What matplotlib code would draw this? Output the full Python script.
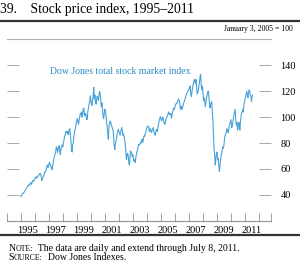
import matplotlib
matplotlib.use('agg')
import matplotlib.pyplot as plt

# Dow Jones total stock market index, Jan 3 2005 = 100
# two readings per month (early / late)
years = list(range(1995, 2012))
values = {
    1995: [38.5, 39.5, 39.8, 40.8, 41, 41.8, 42, 43, 43.5, 44.5, 45, 46,
           46.5, 47.5, 47, 48, 48.5, 49.5, 48, 49, 50, 51, 50.5, 51.5],
    1996: [52, 53.5, 53, 54, 53, 53.8, 54.5, 55.5, 55.5, 56.5, 56, 55,
           51, 52.5, 53.5, 54.5, 55.5, 57.5, 57.5, 58.5, 60, 62.5, 63, 61],
    1997: [63, 65, 64, 62.5, 62, 59.5, 60, 63.5, 66, 68.5, 70, 72,
           74, 77, 76, 72.5, 75, 77.5, 78, 73, 71, 76, 77, 78.5],
    1998: [77, 80, 82, 85, 86, 88.5, 89, 88, 89, 86.5, 88, 90.5,
           91, 86, 82, 74, 73, 79, 80, 85, 88, 90.5, 92, 95.5],
    1999: [97, 99, 96, 94.5, 98, 100, 103, 102, 104, 100, 102, 106.5,
           107, 102, 101, 103, 101, 98, 99, 105, 107, 110, 112, 116.5],
    2000: [113, 110, 109, 113, 117, 123, 114, 117, 112, 110, 114, 116,
           115, 113, 117, 120, 118, 113, 108, 111, 106, 100, 99, 103],
    2001: [106, 105, 101, 96, 93, 87, 83, 92, 95, 97, 96, 94,
           93, 91, 90, 86, 78, 75, 79, 81, 84, 87, 89, 90.5],
    2002: [89, 88, 86, 88, 90, 92, 89, 86, 87, 85, 82, 79,
           73, 67, 71, 72, 70, 65, 63, 69, 74, 73, 72, 69.5],
    2003: [71, 67.5, 66, 67, 65, 69, 71, 73.5, 75, 77.5, 79, 78.5,
           79, 80.5, 80, 82, 83, 80.5, 83, 85.5, 85, 87, 88, 90.5],
    2004: [92, 93, 93, 92.5, 89, 90.5, 91, 88.5, 88, 90, 91, 92,
           89, 87, 86, 88, 90, 90.5, 89, 92, 95, 97, 99, 100.5],
    2005: [99, 97, 98, 100, 99, 96.5, 95, 94.5, 97, 99, 100, 100.5,
           102, 104, 103, 102, 103, 102.5, 99, 101.5, 104, 106, 107, 106],
    2006: [108, 110, 110, 111, 111, 112.5, 114, 113, 112, 107, 106, 108.5,
           106, 107.5, 109, 111, 112, 113.5, 115, 117, 118, 119, 120, 121],
    2007: [121, 123, 124, 118, 116, 119.5, 122, 125, 127, 129, 128, 126,
           129, 124, 118, 119, 121, 124.5, 127, 131.5, 133, 124, 121, 124],
    2008: [118, 113, 115, 112, 108, 112, 115, 117, 119, 120, 116, 111,
           107, 110, 111, 112, 103, 98, 85, 75, 70, 63, 68, 72],
    2009: [73, 67, 68, 63, 58, 62, 67, 70, 72, 75, 77, 76,
           79, 84, 86, 87, 89, 91, 90, 88, 91, 93.5, 95, 96.5],
    2010: [98, 92, 93, 96, 99, 102, 104, 106, 98, 94, 96, 90,
           91, 96, 95, 90, 96, 100, 103, 104, 106, 104, 109, 112],
    2011: [114, 116, 118, 120, 117, 115, 119, 121, 120, 117, 116, 112,
           116, 117],
}

yticks = [40, 60, 80, 100, 120, 140]
xlabels = [1995, 1997, 1999, 2001, 2003, 2005, 2007, 2009, 2011]

dates = []
series = []
for y in years:
    for k, v in enumerate(values[y]):
        dates.append(y + k / 24.0)
        series.append(v)

plt.rcParams['font.family'] = ['Liberation Serif', 'DejaVu Serif']

fig = plt.figure(figsize=(3.0, 2.61), dpi=100)
ax = fig.add_axes([0.0223, 0.1544, 0.8797, 0.6946])

ax.plot(dates, series, color="#4aa3d8", lw=0.8)

ax.set_xlim(1994, 2012.82)
ax.set_ylim(20, 160)

for s in ["left", "right"]:
    ax.spines[s].set_visible(False)
ax.spines["top"].set_color("#b0b0b0")
ax.spines["top"].set_linewidth(0.8)
ax.spines["bottom"].set_color("#909090")
ax.spines["bottom"].set_linewidth(0.8)

# y ticks: short inward marks both sides, labels on the right
ax.set_yticks(yticks)
ax.yaxis.set_ticks_position("both")
ax.tick_params(axis="y", direction="in", length=8.6, width=0.7, color="#a8a8a8",
               labelleft=False, labelright=True, labelsize=7.5, pad=7)

# x ticks: year boundaries, labels in the middle of the year
ax.set_xticks(list(range(1994, 2013)) + [2012.82])
ax.set_xticklabels([])
ax.tick_params(axis="x", direction="in", length=5.8, width=0.6, color="#909090")
ax.set_xticks([y + 0.5 for y in xlabels], minor=True)
ax.set_xticklabels([str(y) for y in xlabels], minor=True)
ax.tick_params(axis="x", which="minor", length=0, labelsize=7.5, pad=4)

ax.text(0.165, 0.81, "Dow Jones total stock market index", transform=ax.transAxes,
        color="#2a8cc4", fontsize=7.0)

fig.text(0.0, 0.962, "39.    Stock price index, 1995\u20132011", fontsize=9.8, va="center")
fig.add_artist(plt.Line2D([0, 1], [0.921, 0.921], color="#333333", lw=1.6))
fig.text(0.975, 0.888, "January 3, 2005 = 100", fontsize=5.6, ha="right", va="center")
fig.add_artist(plt.Line2D([0, 1], [0.098, 0.098], color="#333333", lw=1.6))


# note / source with small caps
def small_caps_line(ypos, first, rest, tail):
    t1 = fig.text(0.028, ypos, first, fontsize=7, va="baseline")
    t2 = fig.add_artist(matplotlib.text.Annotation(rest, xy=(1, 0), xycoords=t1,
                                                   fontsize=5.6, va="bottom"))
    fig.add_artist(matplotlib.text.Annotation(tail, xy=(1, 0), xycoords=t2,
                                              fontsize=7, va="bottom"))


small_caps_line(0.040, "N", "OTE:", "  The data are daily and extend through July 8, 2011.")
small_caps_line(0.004, "S", "OURCE:", "  Dow Jones Indexes.")

fig.savefig("out.png", dpi=100)
